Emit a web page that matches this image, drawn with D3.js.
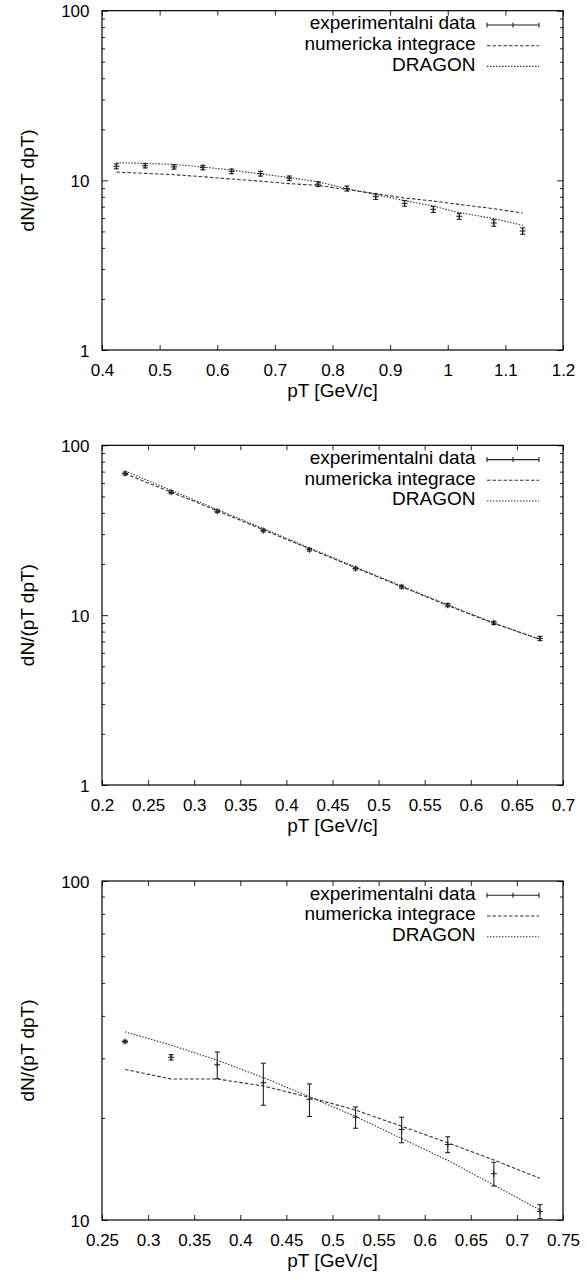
<!DOCTYPE html>
<html>
<head>
<meta charset="utf-8">
<script src="https://cdn.jsdelivr.net/npm/d3@7"></script>
<style>
  html, body { margin: 0; padding: 0; background: #fff; }
  svg { display: block; }
  text { font-family: "Liberation Sans", Arial, Helvetica, sans-serif; fill: #000; }
</style>
</head>
<body>
<svg id="chart" width="587" height="1284"></svg>
<script>
// ---------- Data ----------
const legendLabels = ["experimentalni data", "numericka integrace", "DRAGON"];
const xAxisTitle = "pT [GeV/c]";
const yAxisTitle = "dN/(pT dpT)";

// Panel 1
const p1X       = [0.425, 0.475, 0.525, 0.575, 0.625, 0.675, 0.725, 0.775, 0.825, 0.875, 0.925, 0.975, 1.02, 1.08, 1.13];
const p1Data    = [12.1, 12.2, 12.0, 11.9, 11.3, 10.95, 10.3, 9.5, 8.95, 8.02, 7.32, 6.75, 6.14, 5.61, 5.03];
const p1Err     = [0.4, 0.35, 0.35, 0.35, 0.35, 0.35, 0.3, 0.3, 0.3, 0.3, 0.28, 0.28, 0.25, 0.25, 0.22];
const p1Num     = [11.19, 11.0, 10.8, 10.5, 10.18, 9.9, 9.56, 9.35, 8.82, 8.35, 7.87, 7.55, 7.22, 6.8, 6.42];
const p1Dragon  = [12.7, 12.6, 12.4, 12.0, 11.5, 10.9, 10.4, 9.8, 8.95, 8.25, 7.6, 7.05, 6.45, 5.95, 5.43];
const p1XTicks  = ["0.4", "0.5", "0.6", "0.7", "0.8", "0.9", "1", "1.1", "1.2"];
const p1YTicks  = ["1", "10", "100"];

// Panel 2
const p2X       = [0.225, 0.275, 0.325, 0.375, 0.425, 0.475, 0.525, 0.575, 0.625, 0.675];
const p2Data    = [68.2, 52.9, 40.9, 31.5, 24.3, 18.8, 14.7, 11.45, 9.01, 7.29];
const p2Err     = [1.4, 1.0, 0.8, 0.6, 0.45, 0.35, 0.3, 0.25, 0.2, 0.2];
const p2Num     = [68.0, 53.0, 41.2, 31.8, 24.6, 19.0, 14.7, 11.4, 8.95, 7.2];
const p2Dragon  = [70.5, 54.3, 41.9, 32.3, 24.9, 19.2, 14.85, 11.5, 9.0, 7.2];
const p2XTicks  = ["0.2", "0.25", "0.3", "0.35", "0.4", "0.45", "0.5", "0.55", "0.6", "0.65", "0.7"];
const p2YTicks  = ["1", "10", "100"];

// Panel 3
const p3X       = [0.275, 0.325, 0.375, 0.425, 0.475, 0.525, 0.575, 0.625, 0.675, 0.725];
const p3Data    = [33.6, 30.2, 28.7, 25.4, 22.7, 20.1, 18.5, 16.7, 13.7, 10.6];
const p3Err     = [0.3, 0.55, 2.6, 3.6, 2.5, 1.45, 1.6, 0.9, 1.1, 0.5];
const p3Num     = [27.8, 26.06, 26.06, 24.85, 23.0, 21.1, 18.9, 16.9, 15.03, 13.27];
const p3Dragon  = [35.9, 32.8, 29.6, 26.3, 23.1, 20.2, 17.4, 15.0, 12.68, 10.7];
const p3XTicks  = ["0.25", "0.3", "0.35", "0.4", "0.45", "0.5", "0.55", "0.6", "0.65", "0.7", "0.75"];
const p3YTicks  = ["10", "100"];

// ---------- Drawing ----------
const svg = d3.select("#chart");
const LEFT = 102, RIGHT = 563;
const INK = "#222";

const panels = [
  { top: 10.7, bottom: 350, x: p1X, data: p1Data, err: p1Err, num: p1Num, dragon: p1Dragon, xTicks: p1XTicks, yTicks: p1YTicks },
  { top: 445.3, bottom: 785, x: p2X, data: p2Data, err: p2Err, num: p2Num, dragon: p2Dragon, xTicks: p2XTicks, yTicks: p2YTicks },
  { top: 881, bottom: 1220, x: p3X, data: p3Data, err: p3Err, num: p3Num, dragon: p3Dragon, xTicks: p3XTicks, yTicks: p3YTicks }
];

panels.forEach(p => {
  const xt = p.xTicks.map(Number);
  const yt = p.yTicks.map(Number);
  const x = d3.scaleLinear().domain([xt[0], xt[xt.length - 1]]).range([LEFT, RIGHT]);
  const y = d3.scaleLog().domain([yt[0], yt[yt.length - 1]]).range([p.bottom, p.top]);
  const g = svg.append("g");

  // minor log ticks
  const minor = [];
  for (let d = yt[0]; d < yt[yt.length - 1]; d *= 10) {
    for (let k = 2; k <= 9; k++) minor.push(d * k);
  }

  // y axis ticks (left, inward) with labels
  const yAxisL = d3.axisLeft(y).tickValues(yt).tickFormat((d, i) => p.yTicks[i]).tickSize(-6).tickPadding(18);
  const gyl = g.append("g").attr("transform", `translate(${LEFT},0)`).call(yAxisL);
  gyl.select(".domain").remove();
  gyl.selectAll("text").attr("font-size", 17).attr("dy", "0.36em").attr("x", -12.5).style("font-family", '"Liberation Sans", Arial, sans-serif');
  const yMinorL = d3.axisLeft(y).tickValues(minor).tickFormat("").tickSize(-3);
  g.append("g").attr("transform", `translate(${LEFT},0)`).call(yMinorL).select(".domain").remove();
  // mirrored right
  const yAxisR = d3.axisRight(y).tickValues(yt).tickFormat("").tickSize(-6);
  g.append("g").attr("transform", `translate(${RIGHT},0)`).call(yAxisR).select(".domain").remove();
  const yMinorR = d3.axisRight(y).tickValues(minor).tickFormat("").tickSize(-3);
  g.append("g").attr("transform", `translate(${RIGHT},0)`).call(yMinorR).select(".domain").remove();

  // x axis
  const xAxisB = d3.axisBottom(x).tickValues(xt).tickFormat((d, i) => p.xTicks[i]).tickSize(-5).tickPadding(0);
  const gxb = g.append("g").attr("transform", `translate(0,${p.bottom})`).call(xAxisB);
  gxb.select(".domain").remove();
  gxb.selectAll("text").attr("font-size", 17).attr("y", 26).attr("dy", 0).style("font-family", '"Liberation Sans", Arial, sans-serif');
  const xAxisT = d3.axisTop(x).tickValues(xt).tickFormat("").tickSize(-5);
  g.append("g").attr("transform", `translate(0,${p.top})`).call(xAxisT).select(".domain").remove();

  g.selectAll(".tick line").attr("stroke", INK).attr("stroke-width", 1);

  // frame
  g.append("rect").attr("x", LEFT).attr("y", p.top).attr("width", RIGHT - LEFT).attr("height", p.bottom - p.top)
    .attr("fill", "none").attr("stroke", "#000").attr("stroke-width", 1.2);

  // axis titles
  g.append("text").attr("x", (LEFT + RIGHT) / 2).attr("y", p.bottom + 47).attr("text-anchor", "middle")
    .attr("font-size", 19).text(xAxisTitle);
  g.append("text").attr("transform", `translate(33.5,${(p.top + p.bottom) / 2}) rotate(-90)`)
    .attr("text-anchor", "middle").attr("font-size", 19).text(yAxisTitle);

  // model lines
  const line = (vals) => d3.line().x((d, i) => x(p.x[i])).y(d => y(d))(vals);
  g.append("path").attr("d", line(p.num)).attr("fill", "none").attr("stroke", "#333")
    .attr("stroke-width", 1.1).attr("stroke-dasharray", "3.5,2");
  g.append("path").attr("d", line(p.dragon)).attr("fill", "none").attr("stroke", "#333")
    .attr("stroke-width", 1.1).attr("stroke-dasharray", "1.5,1.5");

  // error bars
  const eg = g.append("g").attr("stroke", INK).attr("stroke-width", 1.1);
  p.data.forEach((v, i) => {
    const cx = x(p.x[i]);
    const y1 = y(Math.max(v - p.err[i], yt[0]));
    const y2 = y(v + p.err[i]);
    const cy = y(v);
    eg.append("line").attr("x1", cx).attr("x2", cx).attr("y1", y1).attr("y2", y2);
    eg.append("line").attr("x1", cx - 2.5).attr("x2", cx + 2.5).attr("y1", y1).attr("y2", y1);
    eg.append("line").attr("x1", cx - 2.5).attr("x2", cx + 2.5).attr("y1", y2).attr("y2", y2);
    eg.append("line").attr("x1", cx - 3).attr("x2", cx + 3).attr("y1", cy).attr("y2", cy);
    eg.append("line").attr("x1", cx).attr("x2", cx).attr("y1", cy - 3).attr("y2", cy + 3);
  });

  // legend
  const lg = g.append("g");
  const lx1 = 487, lx2 = 539;
  legendLabels.forEach((lab, i) => {
    const base = p.top + 18.6 + i * 20.7;
    lg.append("text").attr("x", 475.5).attr("y", base).attr("text-anchor", "end").attr("font-size", 19).text(lab);
    const ly = base - 4.3;
    if (i === 0) {
      lg.append("line").attr("x1", lx1).attr("x2", lx2).attr("y1", ly).attr("y2", ly).attr("stroke", INK).attr("stroke-width", 1.1);
      [lx1, (lx1 + lx2) / 2, lx2].forEach(xx => {
        lg.append("line").attr("x1", xx).attr("x2", xx).attr("y1", ly - 2.5).attr("y2", ly + 2.5).attr("stroke", INK).attr("stroke-width", 1.1);
      });
    } else {
      lg.append("line").attr("x1", lx1).attr("x2", lx2).attr("y1", ly).attr("y2", ly).attr("stroke", "#333")
        .attr("stroke-width", 1.1).attr("stroke-dasharray", i === 1 ? "3.5,2" : "1.5,1.5");
    }
  });
});
</script>
</body>
</html>
